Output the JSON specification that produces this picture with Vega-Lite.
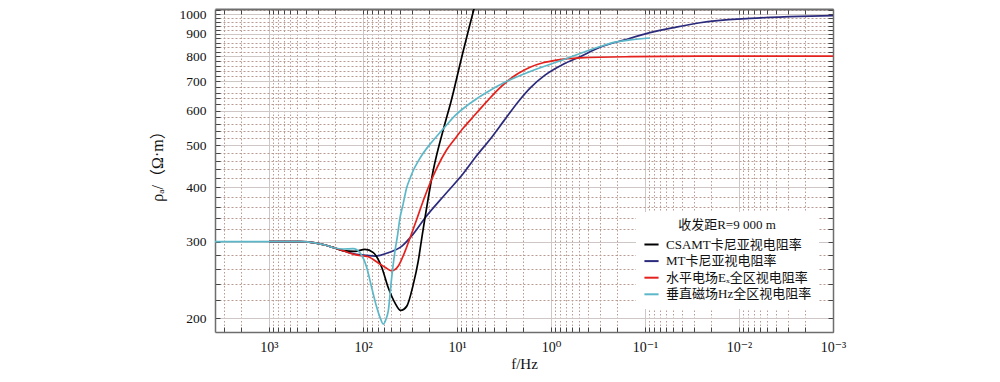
{
  "$schema": "https://vega.github.io/schema/vega-lite/v6.json",
  "width": 618,
  "height": 323,
  "autosize": {"type": "none"},
  "padding": {"left": 215, "top": 9, "right": 167, "bottom": 50},
  "background": "white",
  "config": {"view": {"stroke": null}, "font": "Liberation Serif, Noto Sans CJK SC"},
  "data": {"values": [
    {"s": "MT卡尼亚视电阻率", "f": 1000, "r": 300},
    {"s": "MT卡尼亚视电阻率", "f": 468, "r": 300},
    {"s": "MT卡尼亚视电阻率", "f": 324, "r": 298},
    {"s": "MT卡尼亚视电阻率", "f": 242, "r": 294},
    {"s": "MT卡尼亚视电阻率", "f": 199, "r": 290},
    {"s": "MT卡尼亚视电阻率", "f": 163, "r": 286},
    {"s": "MT卡尼亚视电阻率", "f": 122, "r": 281},
    {"s": "MT卡尼亚视电阻率", "f": 91.4, "r": 279},
    {"s": "MT卡尼亚视电阻率", "f": 74.5, "r": 278},
    {"s": "MT卡尼亚视电阻率", "f": 54.2, "r": 282.7},
    {"s": "MT卡尼亚视电阻率", "f": 38.8, "r": 292.6},
    {"s": "MT卡尼亚视电阻率", "f": 29.4, "r": 311.7},
    {"s": "MT卡尼亚视电阻率", "f": 21.9, "r": 340},
    {"s": "MT卡尼亚视电阻率", "f": 13.4, "r": 385},
    {"s": "MT卡尼亚视电阻率", "f": 8.57, "r": 430},
    {"s": "MT卡尼亚视电阻率", "f": 6.28, "r": 470.6},
    {"s": "MT卡尼亚视电阻率", "f": 4.46, "r": 515},
    {"s": "MT卡尼亚视电阻率", "f": 3.16, "r": 569},
    {"s": "MT卡尼亚视电阻率", "f": 2.23, "r": 629},
    {"s": "MT卡尼亚视电阻率", "f": 1.67, "r": 676},
    {"s": "MT卡尼亚视电阻率", "f": 1.158, "r": 724},
    {"s": "MT卡尼亚视电阻率", "f": 0.74, "r": 767},
    {"s": "MT卡尼亚视电阻率", "f": 0.491, "r": 798},
    {"s": "MT卡尼亚视电阻率", "f": 0.301, "r": 839},
    {"s": "MT卡尼亚视电阻率", "f": 0.163, "r": 873},
    {"s": "MT卡尼亚视电阻率", "f": 0.0885, "r": 906},
    {"s": "MT卡尼亚视电阻率", "f": 0.048, "r": 932},
    {"s": "MT卡尼亚视电阻率", "f": 0.026, "r": 955},
    {"s": "MT卡尼亚视电阻率", "f": 0.00764, "r": 977},
    {"s": "MT卡尼亚视电阻率", "f": 0.002244, "r": 988},
    {"s": "MT卡尼亚视电阻率", "f": 0.001, "r": 992},
    {"s": "CSAMT卡尼亚视电阻率", "f": 1000, "r": 300},
    {"s": "CSAMT卡尼亚视电阻率", "f": 468, "r": 300},
    {"s": "CSAMT卡尼亚视电阻率", "f": 324, "r": 298},
    {"s": "CSAMT卡尼亚视电阻率", "f": 242, "r": 294},
    {"s": "CSAMT卡尼亚视电阻率", "f": 199, "r": 290},
    {"s": "CSAMT卡尼亚视电阻率", "f": 163, "r": 286},
    {"s": "CSAMT卡尼亚视电阻率", "f": 122, "r": 285},
    {"s": "CSAMT卡尼亚视电阻率", "f": 95.3, "r": 288},
    {"s": "CSAMT卡尼亚视电阻率", "f": 77.6, "r": 283},
    {"s": "CSAMT卡尼亚视电阻率", "f": 63.2, "r": 262},
    {"s": "CSAMT卡尼亚视电阻率", "f": 53.8, "r": 235},
    {"s": "CSAMT卡尼亚视电阻率", "f": 45.7, "r": 217},
    {"s": "CSAMT卡尼亚视电阻率", "f": 39.7, "r": 208.5},
    {"s": "CSAMT卡尼亚视电阻率", "f": 34.3, "r": 213},
    {"s": "CSAMT卡尼亚视电阻率", "f": 29.2, "r": 239},
    {"s": "CSAMT卡尼亚视电阻率", "f": 25.8, "r": 271},
    {"s": "CSAMT卡尼亚视电阻率", "f": 23.4, "r": 311},
    {"s": "CSAMT卡尼亚视电阻率", "f": 21.9, "r": 340},
    {"s": "CSAMT卡尼亚视电阻率", "f": 17.9, "r": 437},
    {"s": "CSAMT卡尼亚视电阻率", "f": 13.4, "r": 561},
    {"s": "CSAMT卡尼亚视电阻率", "f": 11.6, "r": 628},
    {"s": "CSAMT卡尼亚视电阻率", "f": 8.85, "r": 800},
    {"s": "CSAMT卡尼亚视电阻率", "f": 6.59, "r": 1027},
    {"s": "CSAMT卡尼亚视电阻率", "f": 5.69, "r": 1150},
    {"s": "水平电场Eₓ全区视电阻率", "f": 1000, "r": 300},
    {"s": "水平电场Eₓ全区视电阻率", "f": 468, "r": 300},
    {"s": "水平电场Eₓ全区视电阻率", "f": 324, "r": 298},
    {"s": "水平电场Eₓ全区视电阻率", "f": 242, "r": 294},
    {"s": "水平电场Eₓ全区视电阻率", "f": 199, "r": 290},
    {"s": "水平电场Eₓ全区视电阻率", "f": 163, "r": 286},
    {"s": "水平电场Eₓ全区视电阻率", "f": 122, "r": 280},
    {"s": "水平电场Eₓ全区视电阻率", "f": 87.9, "r": 277},
    {"s": "水平电场Eₓ全区视电阻率", "f": 68.7, "r": 268},
    {"s": "水平电场Eₓ全区视电阻率", "f": 58.3, "r": 262},
    {"s": "水平电场Eₓ全区视电阻率", "f": 49.5, "r": 257},
    {"s": "水平电场Eₓ全区视电阻率", "f": 42.1, "r": 263.6},
    {"s": "水平电场Eₓ全区视电阻率", "f": 35.7, "r": 285},
    {"s": "水平电场Eₓ全区视电阻率", "f": 30.9, "r": 310},
    {"s": "水平电场Eₓ全区视电阻率", "f": 26.6, "r": 339},
    {"s": "水平电场Eₓ全区视电阻率", "f": 22.8, "r": 373},
    {"s": "水平电场Eₓ全区视电阻率", "f": 19.4, "r": 408},
    {"s": "水平电场Eₓ全区视电阻率", "f": 16.3, "r": 444},
    {"s": "水平电场Eₓ全区视电阻率", "f": 12.9, "r": 487},
    {"s": "水平电场Eₓ全区视电阻率", "f": 10.5, "r": 517},
    {"s": "水平电场Eₓ全区视电阻率", "f": 8.57, "r": 547},
    {"s": "水平电场Eₓ全区视电阻率", "f": 6.43, "r": 587},
    {"s": "水平电场Eₓ全区视电阻率", "f": 4.83, "r": 629},
    {"s": "水平电场Eₓ全区视电阻率", "f": 3.75, "r": 667},
    {"s": "水平电场Eₓ全区视电阻率", "f": 2.96, "r": 699},
    {"s": "水平电场Eₓ全区视电阻率", "f": 2.24, "r": 730},
    {"s": "水平电场Eₓ全区视电阻率", "f": 1.67, "r": 755},
    {"s": "水平电场Eₓ全区视电阻率", "f": 1.216, "r": 773},
    {"s": "水平电场Eₓ全区视电阻率", "f": 0.87, "r": 784},
    {"s": "水平电场Eₓ全区视电阻率", "f": 0.491, "r": 793},
    {"s": "水平电场Eₓ全区视电阻率", "f": 0.1444, "r": 798},
    {"s": "水平电场Eₓ全区视电阻率", "f": 0.026, "r": 800},
    {"s": "水平电场Eₓ全区视电阻率", "f": 0.001, "r": 800},
    {"s": "垂直磁场Hz全区视电阻率", "f": 3750, "r": 300},
    {"s": "垂直磁场Hz全区视电阻率", "f": 1000, "r": 300},
    {"s": "垂直磁场Hz全区视电阻率", "f": 468, "r": 300},
    {"s": "垂直磁场Hz全区视电阻率", "f": 324, "r": 298},
    {"s": "垂直磁场Hz全区视电阻率", "f": 242, "r": 294},
    {"s": "垂直磁场Hz全区视电阻率", "f": 199, "r": 290},
    {"s": "垂直磁场Hz全区视电阻率", "f": 163, "r": 288.5},
    {"s": "垂直磁场Hz全区视电阻率", "f": 127, "r": 289},
    {"s": "垂直磁场Hz全区视电阻率", "f": 108, "r": 283},
    {"s": "垂直磁场Hz全区视电阻率", "f": 91.4, "r": 262},
    {"s": "垂直磁场Hz全区视电阻率", "f": 80.7, "r": 235},
    {"s": "垂直磁场Hz全区视电阻率", "f": 71.4, "r": 212},
    {"s": "垂直磁场Hz全区视电阻率", "f": 65.9, "r": 201},
    {"s": "垂直磁场Hz全区视电阻率", "f": 60.8, "r": 194},
    {"s": "垂直磁场Hz全区视电阻率", "f": 56.9, "r": 199},
    {"s": "垂直磁场Hz全区视电阻率", "f": 53.8, "r": 208},
    {"s": "垂直磁场Hz全区视电阻率", "f": 49.5, "r": 248},
    {"s": "垂直磁场Hz全区视电阻率", "f": 45.7, "r": 285},
    {"s": "垂直磁场Hz全区视电阻率", "f": 42.8, "r": 311},
    {"s": "垂直磁场Hz全区视电阻率", "f": 40.4, "r": 340},
    {"s": "垂直磁场Hz全区视电阻率", "f": 37.5, "r": 365},
    {"s": "垂直磁场Hz全区视电阻率", "f": 34.3, "r": 399},
    {"s": "垂直磁场Hz全区视电阻率", "f": 31.6, "r": 419},
    {"s": "垂直磁场Hz全区视电阻率", "f": 29.2, "r": 437},
    {"s": "垂直磁场Hz全区视电阻率", "f": 26.0, "r": 458},
    {"s": "垂直磁场Hz全区视电阻率", "f": 23.0, "r": 478},
    {"s": "垂直磁场Hz全区视电阻率", "f": 19.4, "r": 502},
    {"s": "垂直磁场Hz全区视电阻率", "f": 15.9, "r": 528},
    {"s": "垂直磁场Hz全区视电阻率", "f": 12.9, "r": 556},
    {"s": "垂直磁场Hz全区视电阻率", "f": 10.5, "r": 584},
    {"s": "垂直磁场Hz全区视电阻率", "f": 8.64, "r": 606},
    {"s": "垂直磁场Hz全区视电阻率", "f": 6.17, "r": 639},
    {"s": "垂直磁场Hz全区视电阻率", "f": 4.46, "r": 667},
    {"s": "垂直磁场Hz全区视电阻率", "f": 3.22, "r": 694},
    {"s": "垂直磁场Hz全区视电阻率", "f": 1.67, "r": 738},
    {"s": "垂直磁场Hz全区视电阻率", "f": 0.74, "r": 785},
    {"s": "垂直磁场Hz全区视电阻率", "f": 0.301, "r": 842},
    {"s": "垂直磁场Hz全区视电阻率", "f": 0.2085, "r": 862},
    {"s": "垂直磁场Hz全区视电阻率", "f": 0.1444, "r": 872},
    {"s": "垂直磁场Hz全区视电阻率", "f": 0.0885, "r": 881}
  ]},
  "layer": [
    {
      "mark": {"type": "line", "interpolate": "monotone", "clip": true, "strokeWidth": 1.7},
      "encoding": {
        "x": {
          "field": "f", "type": "quantitative",
          "scale": {"type": "log", "domain": [0.001, 3750], "reverse": true, "nice": false},
          "axis": {
            "orient": "bottom",
            "values": [0.001, 0.002, 0.003, 0.004, 0.005, 0.006, 0.007, 0.008, 0.009, 0.01, 0.02, 0.03, 0.04, 0.05, 0.06, 0.07, 0.08, 0.09, 0.1, 0.2, 0.3, 0.4, 0.5, 0.6, 0.7, 0.8, 0.9, 1, 2, 3, 4, 5, 6, 7, 8, 9, 10, 20, 30, 40, 50, 60, 70, 80, 90, 100, 200, 300, 400, 500, 600, 700, 800, 900, 1000, 2000, 3000],
            "labelExpr": "abs(log(datum.value)/LN10 - round(log(datum.value)/LN10)) < 0.01 ? '10' + replace(replace(replace(replace(replace('' + round(log(datum.value)/LN10), '-', '⁻'), '0', '⁰'), '1', '¹'), '2', '²'), '3', '³') : ''",
            "labelOverlap": false, "labelFlush": false, "labelBound": false,
            "labelFont": "Liberation Serif, DejaVu Serif", "labelFontSize": 14, "labelColor": "#111",
            "labelPadding": 13,
            "tickSize": -5, "tickColor": "#444", "tickWidth": 1,
            "domainColor": "#6e6e6e", "domainWidth": 1.5,
            "grid": true,
            "gridColor": {"condition": {"test": "abs(log(datum.value)/LN10 - round(log(datum.value)/LN10)) < 0.01", "value": "#cfc6c6"}, "value": "#b99b93"},
            "gridDash": {"condition": {"test": "abs(log(datum.value)/LN10 - round(log(datum.value)/LN10)) < 0.01", "value": []}, "value": [1.5, 2]},
            "gridWidth": 1,
            "title": "f/Hz", "titleFont": "Liberation Serif", "titleFontSize": 15, "titleFontWeight": "normal", "titleColor": "#111", "titlePadding": 2
          }
        },
        "y": {
          "field": "r", "type": "quantitative",
          "scale": {"type": "log", "domain": [186, 1027], "nice": false},
          "axis": {
            "orient": "left",
            "values": [200, 220, 240, 260, 280, 300, 320, 340, 360, 380, 400, 420, 440, 460, 480, 500, 520, 540, 560, 580, 600, 620, 640, 660, 680, 700, 720, 740, 760, 780, 800, 820, 840, 860, 880, 900, 920, 940, 960, 980, 1000, 1020],
            "labelExpr": "datum.value % 100 == 0 ? '' + datum.value : ''",
            "labelOverlap": false, "labelFlush": false, "labelBound": false,
            "labelFont": "Liberation Serif", "labelFontSize": 13.5, "labelColor": "#111",
            "labelPadding": 14,
            "tickSize": -5, "tickColor": "#444", "tickWidth": 1,
            "domainColor": "#6e6e6e", "domainWidth": 1.5,
            "grid": true,
            "gridColor": {"condition": {"test": "datum.value % 100 == 0", "value": "#cfc6c6"}, "value": "#b99b93"},
            "gridDash": {"condition": {"test": "datum.value % 100 == 0", "value": []}, "value": [2, 2]},
            "gridWidth": 1,
            "title": "ρₐ/（Ω·m）", "titleFont": "Liberation Serif, Noto Sans CJK SC", "titleFontSize": 16, "titleFontWeight": "normal", "titleColor": "#111",
            "titleX": -58, "titleY": 153, "titleBaseline": "middle", "titleAngle": -90
          }
        },
        "color": {
          "field": "s", "type": "nominal",
          "scale": {
            "domain": ["CSAMT卡尼亚视电阻率", "MT卡尼亚视电阻率", "水平电场Eₓ全区视电阻率", "垂直磁场Hz全区视电阻率"],
            "range": ["#000000", "#2b2a7c", "#e4211c", "#5cb8c9"]
          },
          "legend": {
            "orient": "none", "legendX": 421, "legendY": 203,
            "title": "收发距R=9 000 m", "titleAnchor": "middle", "titleFont": "Liberation Serif, Noto Sans CJK SC", "titleFontSize": 13, "titleFontWeight": "normal", "titleColor": "#111", "titlePadding": 4,
            "fillColor": "white", "padding": 7,
            "labelFont": "Liberation Serif, Noto Sans CJK SC", "labelFontSize": 13, "labelColor": "#111", "labelLimit": 300, "labelOffset": 6,
            "symbolType": "stroke", "symbolSize": 200, "symbolStrokeWidth": 2, "rowPadding": 0.6
          }
        }
      }
    },
    {
      "mark": {"type": "point", "opacity": 0},
      "encoding": {
        "x": {
          "field": "f", "type": "quantitative",
          "scale": {"type": "log", "domain": [0.001, 3750], "reverse": true, "nice": false},
          "axis": {
            "orient": "top",
            "values": [0.001, 0.002, 0.003, 0.004, 0.005, 0.006, 0.007, 0.008, 0.009, 0.01, 0.02, 0.03, 0.04, 0.05, 0.06, 0.07, 0.08, 0.09, 0.1, 0.2, 0.3, 0.4, 0.5, 0.6, 0.7, 0.8, 0.9, 1, 2, 3, 4, 5, 6, 7, 8, 9, 10, 20, 30, 40, 50, 60, 70, 80, 90, 100, 200, 300, 400, 500, 600, 700, 800, 900, 1000, 2000, 3000],
            "labels": false, "grid": false, "title": null,
            "tickSize": -5, "tickColor": "#444", "tickWidth": 1,
            "domainColor": "#6e6e6e", "domainWidth": 2
          }
        },
        "y": {
          "field": "r", "type": "quantitative",
          "scale": {"type": "log", "domain": [186, 1027], "nice": false},
          "axis": {
            "orient": "right",
            "values": [200, 220, 240, 260, 280, 300, 320, 340, 360, 380, 400, 420, 440, 460, 480, 500, 520, 540, 560, 580, 600, 620, 640, 660, 680, 700, 720, 740, 760, 780, 800, 820, 840, 860, 880, 900, 920, 940, 960, 980, 1000, 1020],
            "labels": false, "grid": false, "title": null,
            "tickSize": -5, "tickColor": "#444", "tickWidth": 1,
            "domainColor": "#6e6e6e", "domainWidth": 1.5
          }
        }
      }
    }
  ]
}
